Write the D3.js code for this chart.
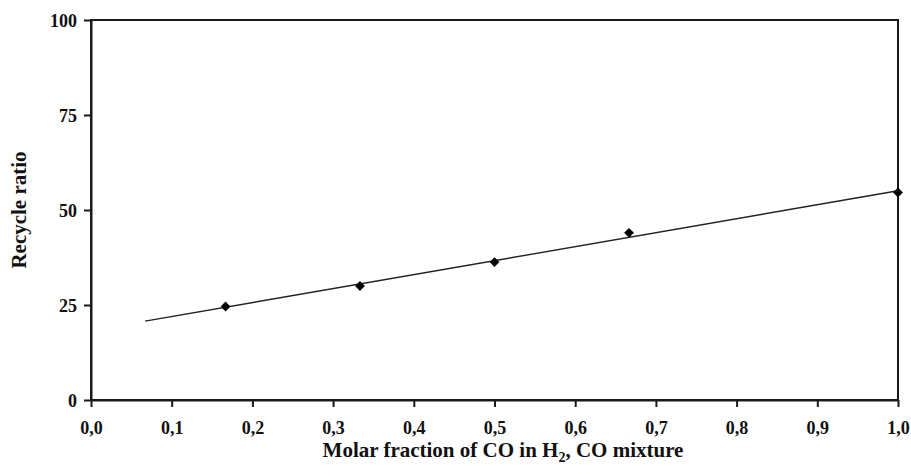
<!DOCTYPE html>
<html>
<head>
<meta charset="utf-8">
<script src="https://cdn.jsdelivr.net/npm/d3@7/dist/d3.min.js"></script>
<style>
  html, body { margin: 0; padding: 0; background: #fff; }
  svg { display: block; }
  text { font-family: "Liberation Serif", "Times New Roman", serif; font-weight: bold; fill: #111; }
</style>
</head>
<body>
<svg id="chart" width="911" height="476"></svg>
<script>
// Molar fraction of CO in the H2/CO feed and the resulting recycle ratio
const coFraction = [0.1667, 0.3333, 0.5, 0.6667, 1.0];
const recycleRatio = [24.6, 30.0, 36.3, 44.0, 54.6];
const xTicks = [0, 0.1, 0.2, 0.3, 0.4, 0.5, 0.6, 0.7, 0.8, 0.9, 1.0];
const yTicks = [0, 25, 50, 75, 100];
// span covered by the linear trend line
const trendRange = [0.067, 1.0];

const svg = d3.select("#chart");
const margin = { left: 91, right: 13, top: 20, bottom: 76 };
const W = 911, H = 476;
const plotW = W - margin.left - margin.right;
const plotH = H - margin.top - margin.bottom;

const x = d3.scaleLinear().domain([0, 1]).range([margin.left, margin.left + plotW]);
const y = d3.scaleLinear().domain([0, 100]).range([margin.top + plotH, margin.top]);

const fmt = d => d3.format(".1f")(d).replace(".", ",");
const axisColor = "#1a1a1a";

// frame (top and right edges)
svg.append("rect")
  .attr("x", x(0)).attr("y", y(100))
  .attr("width", x(1) - x(0)).attr("height", y(0) - y(100))
  .attr("fill", "none").attr("stroke", axisColor).attr("stroke-width", 2);

// x axis
const gx = svg.append("g")
  .attr("transform", `translate(0,${y(0)})`)
  .call(d3.axisBottom(x).tickValues(xTicks).tickFormat(fmt).tickSize(7).tickSizeOuter(0));
gx.attr("font-size", null).attr("font-family", null);
gx.select(".domain").attr("stroke", axisColor).attr("stroke-width", 2);
gx.selectAll(".tick line").attr("stroke", axisColor).attr("stroke-width", 2);
gx.selectAll(".tick text").attr("dy", 0).attr("y", 34)
  .style("font-size", "18px");

// y axis
const gy = svg.append("g")
  .attr("transform", `translate(${x(0)},0)`)
  .call(d3.axisLeft(y).tickValues(yTicks).tickSize(7).tickSizeOuter(0));
gy.attr("font-size", null).attr("font-family", null);
gy.select(".domain").attr("stroke", axisColor).attr("stroke-width", 2);
gy.selectAll(".tick line").attr("stroke", axisColor).attr("stroke-width", 2);
gy.selectAll(".tick text").attr("x", -14).attr("dy", "0.36em")
  .style("font-size", "18px");

// least-squares trend line
const mx = d3.mean(coFraction), my = d3.mean(recycleRatio);
const sxy = d3.sum(coFraction, (v, i) => (v - mx) * (recycleRatio[i] - my));
const sxx = d3.sum(coFraction, v => (v - mx) ** 2);
const slope = sxy / sxx, intercept = my - slope * mx;
const trend = trendRange.map(v => [v, intercept + slope * v]);

svg.append("path")
  .datum(trend)
  .attr("d", d3.line().x(d => x(d[0])).y(d => y(d[1])))
  .attr("fill", "none").attr("stroke", "#222").attr("stroke-width", 1.4);

// data markers (diamonds)
svg.append("g").selectAll("path")
  .data(coFraction.map((v, i) => [v, recycleRatio[i]]))
  .join("path")
  .attr("transform", d => `translate(${x(d[0])},${y(d[1])}) rotate(45)`)
  .attr("d", d3.symbol(d3.symbolSquare, 48))
  .attr("fill", "#000");

// axis titles
svg.append("text")
  .attr("x", 503).attr("y", 457)
  .attr("text-anchor", "middle").style("font-size", "21px")
  .html('Molar fraction of CO in H<tspan dy="5" font-size="14px">2</tspan><tspan dy="-5">, CO mixture</tspan>');

svg.append("text")
  .attr("transform", `translate(26,${(y(0) + y(100)) / 2}) rotate(-90)`)
  .attr("text-anchor", "middle").style("font-size", "21px")
  .text("Recycle ratio");
</script>
</body>
</html>
